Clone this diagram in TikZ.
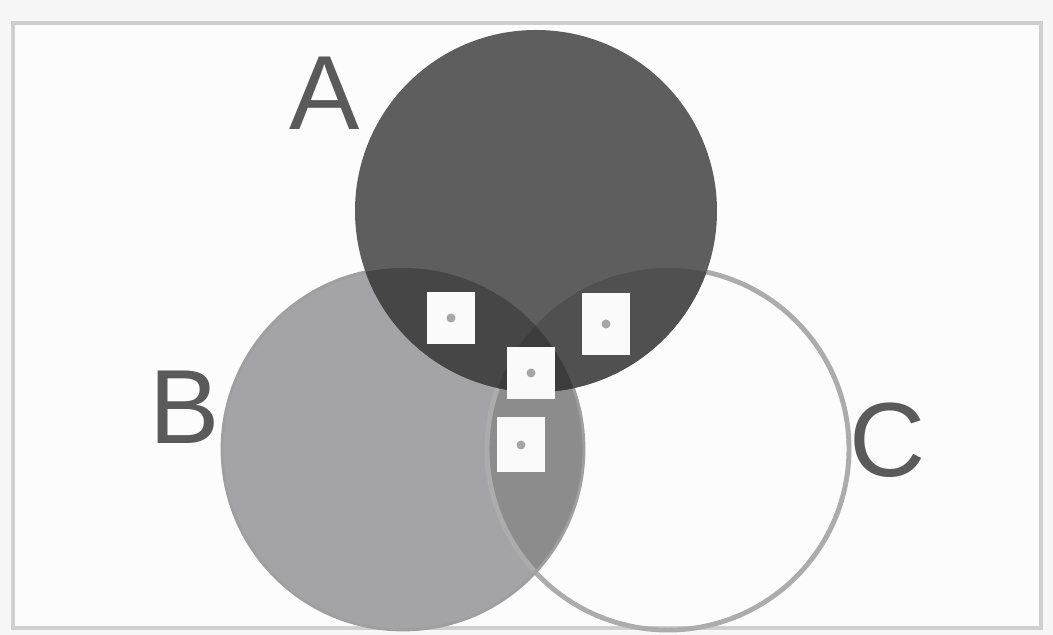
\documentclass[tikz,border=0pt]{standalone}
\usepackage{fontspec}
\setmainfont{Liberation Sans}
\usetikzlibrary{positioning}
\definecolor{setAfill}{HTML}{5E5E5E}
\definecolor{setBfill}{HTML}{A4A4A6}
\definecolor{ABfill}{HTML}{464646}
\definecolor{ACfill}{HTML}{505050}
\definecolor{BCfill}{HTML}{8C8C8C}
\definecolor{ABCfill}{HTML}{3C3C3C}
\definecolor{labelgray}{HTML}{5A5A5A}
\definecolor{framegray}{HTML}{CFCFCF}

\begin{document}
\begin{tikzpicture}[
            setlabel/.style={text=labelgray, font=\fontsize{30}{32}\selectfont, inner sep=0pt},
            regionbox/.style={rectangle, fill=white!96!gray, minimum width=0.48cm, minimum height=0.52cm, inner sep=0pt},
            boxdot/.style={circle, fill=gray!70, minimum size=0.09cm, inner sep=0pt}
        ]
            \useasboundingbox (0,0) rectangle (10.53,6.35);
            \fill[gray!6] (0,0) rectangle (10.53,6.35);

            % Marco
            \draw[framegray, line width=1.2pt, fill=white!98!gray] (0.13,0.07) rectangle (10.41,6.12);

            % Centros de los conjuntos
            \coordinate (cA) at (5.36,4.24);
            \coordinate (cB) at (4.03,1.86);
            \coordinate (cC) at (6.68,1.86);

            % Conjunto B y su cruce con C
            \fill[setBfill] (cB) circle (1.81);
            \begin{scope}
                \clip (cB) circle (1.81);
                \fill[BCfill] (cC) circle (1.81);
            \end{scope}

            % Bordes (quedan tapados por A)
            \draw[gray!65, line width=1.4pt] (cC) circle (1.81);
            \draw[gray!75, line width=0.8pt] (cB) circle (1.81);

            % Conjunto A y sus intersecciones
            \fill[setAfill] (cA) circle (1.81);
            \begin{scope}
                \clip (cA) circle (1.81);
                \fill[ABfill] (cB) circle (1.81);
                \fill[ACfill] (cC) circle (1.81);
                \clip (cB) circle (1.81);
                \fill[ABCfill] (cC) circle (1.81);
            \end{scope}

            % Etiquetas de los conjuntos
            \node (labA) [setlabel] at (3.25,5.42) {A};
            \node (labB) [setlabel] at (1.85,2.28) {B};
            \node (labC) [setlabel] at (8.88,1.95) {C};

            % Casillas de las regiones
            \node (boxAB) [regionbox] at (4.51,3.17) {};
            \node (boxAC) [regionbox, minimum height=0.62cm] at (6.06,3.11) {};
            \node (boxABC) [regionbox] at (5.31,2.62) {};
            \node (boxBC) [regionbox, minimum height=0.55cm] at (5.21,1.90) {};
            \foreach \b in {boxAB, boxAC, boxABC, boxBC}
                \node [boxdot] at (\b) {};
        \end{tikzpicture}
\end{document}
